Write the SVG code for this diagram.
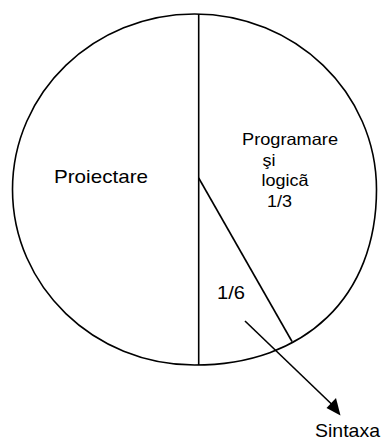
<svg xmlns="http://www.w3.org/2000/svg" width="386" height="442" viewBox="0 0 386 442">
<style>
.ln{fill:none;stroke:#000;stroke-width:1.6}
.t{font-family:"Liberation Sans",Arial,sans-serif;fill:#000}
</style>
<rect width="386" height="442" fill="#fff"/>
<g id="pie">
<path class="ln" d="M194.5,14 C295,14 376.5,92.6 376.5,189.5 C376.5,296.6 305.5,365 194.5,365 C94,365 12.5,286.4 12.5,189.5 C12.5,92.6 94,14 194.5,14 Z"/>
</g>
<g id="connectors">
<line class="ln" x1="198.7" y1="14" x2="198.7" y2="365"/>
<line class="ln" x1="198.7" y1="178" x2="292" y2="341.5"/>
<line class="ln" stroke-width="2" x1="245" y1="321" x2="332" y2="404.5"/>
<polygon points="340.5,415.5 326.5,408 336,398" fill="#000"/>
</g>
<g id="proiectare"><text class="t" x="54" y="183" font-size="19" textLength="94" lengthAdjust="spacingAndGlyphs">Proiectare</text></g>
<g id="programare">
<text class="t" x="242" y="145" font-size="16.5" textLength="96" lengthAdjust="spacingAndGlyphs">Programare</text>
<text class="t" x="262.5" y="165.5" font-size="16.5" textLength="13" lengthAdjust="spacingAndGlyphs">şi</text>
<text class="t" x="261.5" y="186" font-size="16.5" textLength="47" lengthAdjust="spacingAndGlyphs">logicã</text>
<text class="t" x="267" y="206.5" font-size="16.5" textLength="25" lengthAdjust="spacingAndGlyphs">1/3</text>
</g>
<g id="sintaxa-part"><text class="t" x="217" y="299" font-size="17.5" textLength="28" lengthAdjust="spacingAndGlyphs">1/6</text></g>
<g id="sintaxa"><text class="t" x="315" y="436.5" font-size="19" textLength="65" lengthAdjust="spacingAndGlyphs">Sintaxa</text></g>
</svg>
